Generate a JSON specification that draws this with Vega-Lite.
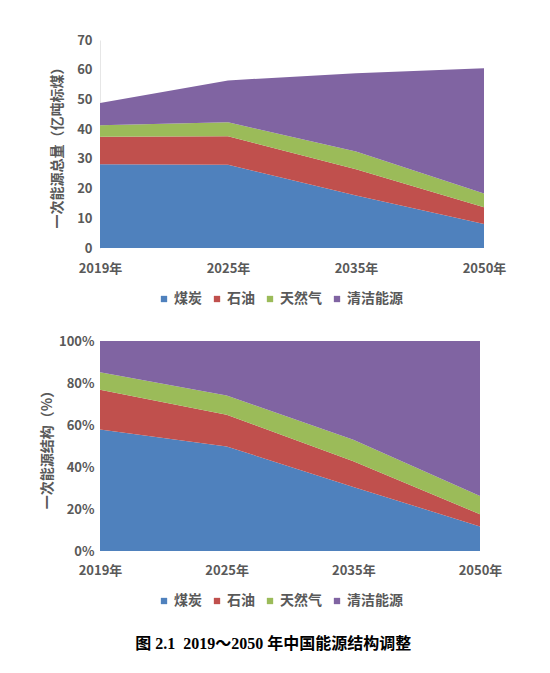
{
  "$schema": "https://vega.github.io/schema/vega-lite/v6.json",
  "padding": {"left": 40, "top": 34, "right": 10, "bottom": 10},
  "autosize": {"type": "pad"},
  "datasets": {
    "total": [
      {"year": "2019年", "type": "煤炭", "value": 28.2},
      {"year": "2019年", "type": "石油", "value": 9.2},
      {"year": "2019年", "type": "天然气", "value": 3.9},
      {"year": "2019年", "type": "清洁能源", "value": 7.5},
      {"year": "2025年", "type": "煤炭", "value": 28.0},
      {"year": "2025年", "type": "石油", "value": 9.6},
      {"year": "2025年", "type": "天然气", "value": 4.7},
      {"year": "2025年", "type": "清洁能源", "value": 14.1},
      {"year": "2035年", "type": "煤炭", "value": 17.7},
      {"year": "2035年", "type": "石油", "value": 8.8},
      {"year": "2035年", "type": "天然气", "value": 6.0},
      {"year": "2035年", "type": "清洁能源", "value": 26.3},
      {"year": "2050年", "type": "煤炭", "value": 8.1},
      {"year": "2050年", "type": "石油", "value": 5.6},
      {"year": "2050年", "type": "天然气", "value": 4.6},
      {"year": "2050年", "type": "清洁能源", "value": 42.2}
    ],
    "share": [
      {"year": "2019年", "type": "煤炭", "value": 0.579},
      {"year": "2019年", "type": "石油", "value": 0.189},
      {"year": "2019年", "type": "天然气", "value": 0.083},
      {"year": "2019年", "type": "清洁能源", "value": 0.149},
      {"year": "2025年", "type": "煤炭", "value": 0.498},
      {"year": "2025年", "type": "石油", "value": 0.151},
      {"year": "2025年", "type": "天然气", "value": 0.091},
      {"year": "2025年", "type": "清洁能源", "value": 0.26},
      {"year": "2035年", "type": "煤炭", "value": 0.305},
      {"year": "2035年", "type": "石油", "value": 0.122},
      {"year": "2035年", "type": "天然气", "value": 0.103},
      {"year": "2035年", "type": "清洁能源", "value": 0.47},
      {"year": "2050年", "type": "煤炭", "value": 0.117},
      {"year": "2050年", "type": "石油", "value": 0.058},
      {"year": "2050年", "type": "天然气", "value": 0.087},
      {"year": "2050年", "type": "清洁能源", "value": 0.738}
    ]
  },
  "vconcat": [
    {
      "width": 384,
      "height": 208,
      "data": {"name": "total"},
      "transform": [
        {"calculate": "indexof(['煤炭', '石油', '天然气', '清洁能源'], datum.type)", "as": "rank"}
      ],
      "mark": {"type": "area", "opacity": 1},
      "encoding": {
        "x": {
          "field": "year",
          "type": "nominal",
          "sort": ["2019年", "2025年", "2035年", "2050年"],
          "scale": {"type": "point", "padding": 0},
          "axis": {"title": null, "labelAngle": 0, "domain": false, "ticks": false, "labelPadding": 14}
        },
        "y": {
          "field": "value",
          "type": "quantitative",
          "stack": "zero",
          "scale": {"domain": [0, 70]},
          "axis": {
            "title": "一次能源总量（亿吨标煤）",
            "values": [0, 10, 20, 30, 40, 50, 60, 70],
            "grid": false,
            "ticks": false,
            "domain": true,
            "domainColor": "#e6e6e6",
            "labelPadding": 8,
            "titlePadding": 12
          }
        },
        "order": {"field": "rank", "type": "quantitative", "sort": "ascending"},
        "color": {
          "field": "type",
          "type": "nominal",
          "sort": ["煤炭", "石油", "天然气", "清洁能源"],
          "scale": {
            "domain": ["煤炭", "石油", "天然气", "清洁能源"],
            "range": ["#4f81bd", "#c0504d", "#9bbb59", "#8064a2"]
          },
          "legend": {"title": null, "orient": "none", "direction": "horizontal", "legendX": 57, "legendY": 252}
        }
      }
    },
    {
      "width": 380,
      "height": 210,
      "data": {"name": "share"},
      "transform": [
        {"calculate": "indexof(['煤炭', '石油', '天然气', '清洁能源'], datum.type)", "as": "rank"}
      ],
      "mark": {"type": "area", "opacity": 1},
      "encoding": {
        "x": {
          "field": "year",
          "type": "nominal",
          "sort": ["2019年", "2025年", "2035年", "2050年"],
          "scale": {"type": "point", "padding": 0},
          "axis": {"title": null, "labelAngle": 0, "domain": false, "ticks": false, "labelPadding": 13}
        },
        "y": {
          "field": "value",
          "type": "quantitative",
          "stack": "zero",
          "scale": {"domain": [0, 1]},
          "axis": {
            "title": "一次能源结构（%）",
            "values": [0, 0.2, 0.4, 0.6, 0.8, 1],
            "format": ".0%",
            "grid": false,
            "ticks": false,
            "domain": false,
            "labelPadding": 6,
            "titlePadding": 4
          }
        },
        "order": {"field": "rank", "type": "quantitative", "sort": "ascending"},
        "color": {
          "field": "type",
          "type": "nominal",
          "sort": ["煤炭", "石油", "天然气", "清洁能源"],
          "scale": {
            "domain": ["煤炭", "石油", "天然气", "清洁能源"],
            "range": ["#4f81bd", "#c0504d", "#9bbb59", "#8064a2"]
          },
          "legend": {"title": null, "orient": "none", "direction": "horizontal", "legendX": 57, "legendY": 253}
        }
      }
    }
  ],
  "spacing": 29,
  "resolve": {"legend": {"color": "independent"}, "scale": {"color": "independent"}},
  "title": {
    "text": "图 2.1\u00a0 2019～2050 年中国能源结构调整",
    "orient": "bottom",
    "anchor": "middle",
    "offset": 28,
    "font": "Liberation Serif, Noto Sans CJK SC",
    "fontSize": 16,
    "fontWeight": "bold",
    "color": "#000000"
  },
  "config": {
    "view": {"stroke": null},
    "font": "Noto Sans CJK SC",
    "axis": {
      "labelFont": "Noto Sans CJK SC",
      "labelFontSize": 13,
      "labelFontWeight": "bold",
      "labelColor": "#595959",
      "titleFont": "Noto Sans CJK SC",
      "titleFontSize": 14,
      "titleFontWeight": "bold",
      "titleColor": "#595959"
    },
    "legend": {
      "labelFont": "Noto Sans CJK SC",
      "labelFontSize": 14,
      "labelFontWeight": "bold",
      "labelColor": "#595959",
      "symbolType": "square",
      "symbolSize": 40,
      "symbolStrokeWidth": 0,
      "symbolOpacity": 1,
      "columnPadding": 8,
      "labelOffset": 3
    }
  }
}
